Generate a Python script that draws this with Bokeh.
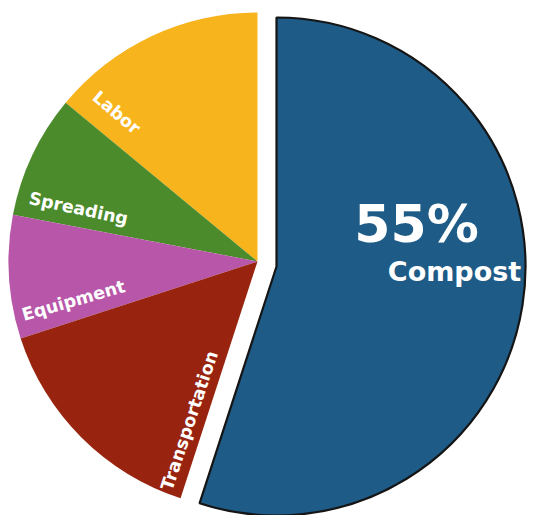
import numpy as np
from bokeh.plotting import figure
from bokeh.models import Range1d, ColumnDataSource
from bokeh.core.properties import value
from bokeh.embed import file_html
from bokeh.resources import INLINE

# ---- data ----
categories = ["Labor", "Spreading", "Equipment", "Transportation", "Compost"]
shares = [14, 8, 8, 15, 55]
colors = ["#F8B41C", "#4B8B2B", "#B857A9", "#98240F", "#1E5B86"]

# ---- layout ----
W, H = 534, 515
cx, cy = 257, H - 261          # pie centre (pixels, y up)
explode = (19, -5)             # offset of the Compost slice
R = 249

fracs = np.array(shares, dtype=float) / sum(shares)
ends = 90 + np.cumsum(fracs) * 360
starts = np.concatenate([[90], ends[:-1]])

p = figure(width=W, height=H, x_range=Range1d(0, W), y_range=Range1d(0, H),
           output_backend="svg", toolbar_location=None, min_border=0)
p.axis.visible = False
p.grid.visible = False
p.outline_line_color = None
p.background_fill_color = "white"
p.border_fill_color = "white"

xs = [cx + (explode[0] if c == "Compost" else 0) for c in categories]
ys = [cy + (explode[1] if c == "Compost" else 0) for c in categories]
src = ColumnDataSource(dict(x=xs, y=ys, start=list(starts), end=list(ends),
                            color=colors, cat=categories,
                            lc=["#151515" if c == "Compost" else None for c in categories],
                            lw=[2.2 if c == "Compost" else 0 for c in categories]))
p.wedge(x="x", y="y", radius=R, start_angle="start", end_angle="end",
        start_angle_units="deg", end_angle_units="deg",
        fill_color="color", line_color="lc", line_width="lw", source=src)

# ---- slice labels ----
lab_pos = {"Labor": (116, 112, -40), "Spreading": (78, 208, -12),
           "Equipment": (73, 300, 16), "Transportation": (189, 420, 71.5)}
lx = [lab_pos[c][0] for c in categories[:4]]
ly = [H - lab_pos[c][1] for c in categories[:4]]
la = [lab_pos[c][2] for c in categories[:4]]
p.text(x=lx, y=ly, text=categories[:4], angle=la, angle_units="deg",
       text_color="white", text_font=value("DejaVu Sans"), text_font_style="bold",
       text_font_size="17.5px", text_align="center", text_baseline="middle")

pct = f"{shares[4]}%"
p.text(x=[416], y=[H - 223], text=[pct], text_color="white",
       text_font=value("DejaVu Sans"), text_font_style="bold",
       text_font_size="52px", text_align="center", text_baseline="alphabetic")
p.text(x=[454], y=[H - 271], text=[categories[4]], text_color="white",
       text_font=value("DejaVu Sans"), text_font_style="bold",
       text_font_size="27px", text_align="center", text_baseline="alphabetic")

open("out.html", "w").write(file_html(p, INLINE))
